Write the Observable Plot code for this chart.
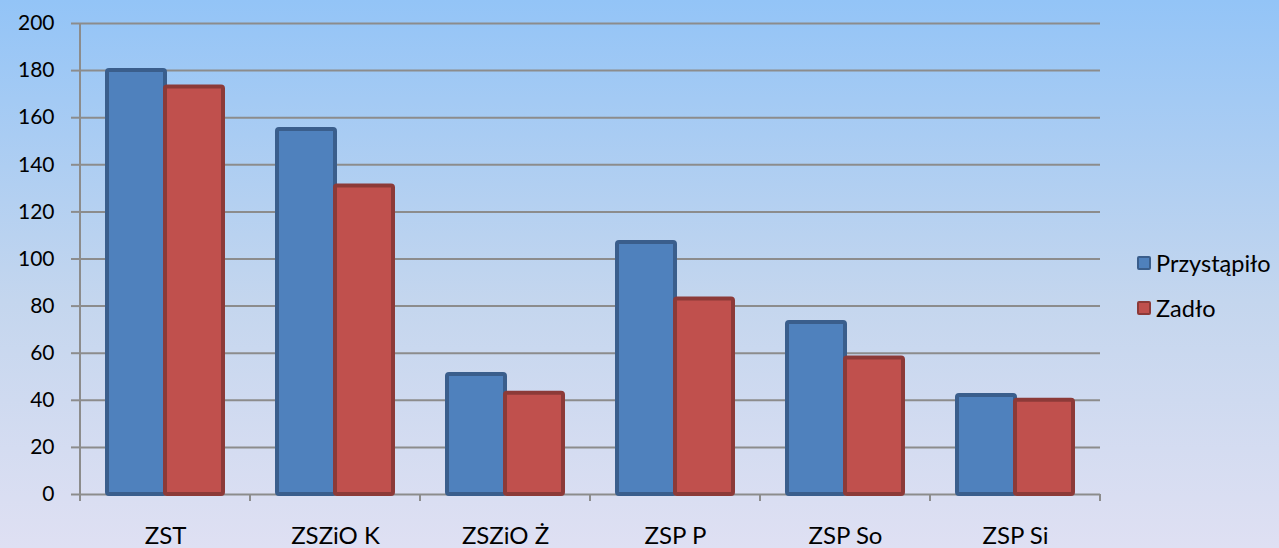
<!DOCTYPE html>
<html><head><meta charset="utf-8">
<script src="https://cdn.jsdelivr.net/npm/d3@7"></script>
<script src="https://cdn.jsdelivr.net/npm/@observablehq/plot@0.6"></script>
<style>
html,body{margin:0;padding:0;}
#wrap{position:relative;width:1279px;height:548px;overflow:hidden;background:linear-gradient(to bottom,#93c4f7 0%,#c4d6ee 55%,#dfe0f3 100%);font-family:Lato,"Open Sans",sans-serif;}
#legend{position:absolute;left:1137px;top:240px;}
.item{display:flex;align-items:center;height:45px;font-size:23.5px;color:#000;white-space:nowrap;}
.sw{width:10px;height:10px;border:2.5px solid;border-radius:2px;margin-right:5px;}
</style></head>
<body><div id="wrap"><div id="chart"></div><div id="legend"></div></div>
<script>
const categories = ["ZST","ZSZiO K","ZSZiO Ż","ZSP P","ZSP So","ZSP Si"];
const series = ["Przystąpiło","Zadło"];
const przystapilo = [180,155,51,107,73,42];
const zadlo = [173,131,43,83,58,40];
const yTicks = [0,20,40,60,80,100,120,140,160,180,200];
const fills = ["#4F81BD","#C0504D"];
const strokes = ["#3A5E8C","#8C3A38"];

const values = [przystapilo, zadlo];
const data = categories.flatMap((c,i)=>series.map((s,k)=>({cat:c, series:s, value:values[k][i]})));

const plot = Plot.plot({
  width:1279, height:548, marginTop:23, marginBottom:54, marginLeft:79, marginRight:179,
  style:{background:"transparent", fontFamily:"Lato, 'Open Sans', sans-serif", fontSize:"21px", color:"#000", overflow:"visible"},
  fx:{domain:categories, padding:0, label:null, axis:null},
  x:{domain:series, paddingInner:0, paddingOuter:0.45, axis:null},
  y:{domain:[0,200], axis:null, label:null},
  marks:[
    Plot.ruleY(yTicks, {stroke:"#8c8c8c", strokeWidth:2}),
    ...series.map((s,k)=>Plot.barY(data.filter(d=>d.series===s), {fx:"cat", x:"series", y:"value", fill:fills[k], stroke:strokes[k], strokeWidth:4, rx:2})),
    Plot.axisY(yTicks, {tickSize:9, tickPadding:17, stroke:"#8c8c8c", strokeWidth:2, fontSize:21, fill:"#000", label:null}),
    Plot.axisFx({anchor:"bottom", tickSize:0, tickPadding:32, fontSize:24, fill:"#000", label:null})
  ]
});

const fx = plot.scale("fx"), y = plot.scale("y");
const svg = d3.select(plot);
const g = svg.append("g").attr("stroke","#8c8c8c").attr("stroke-width",2);
const bounds = categories.map(c=>fx.apply(c)).concat([fx.apply(categories[categories.length-1]) + fx.bandwidth]);
g.append("line").attr("x1",bounds[0]).attr("x2",bounds[0]).attr("y1",y.apply(0)).attr("y2",y.apply(200));
bounds.forEach(b=>g.append("line").attr("x1",b).attr("x2",b).attr("y1",y.apply(0)).attr("y2",y.apply(0)+7));

document.getElementById("chart").appendChild(plot);

const legend = document.getElementById("legend");
series.forEach((s,k)=>{
  const it = document.createElement("div"); it.className="item";
  const sw = document.createElement("span"); sw.className="sw"; sw.style.background=fills[k]; sw.style.borderColor=strokes[k];
  const t = document.createElement("span"); t.textContent=s;
  it.appendChild(sw); it.appendChild(t); legend.appendChild(it);
});
</script>
</body></html>
